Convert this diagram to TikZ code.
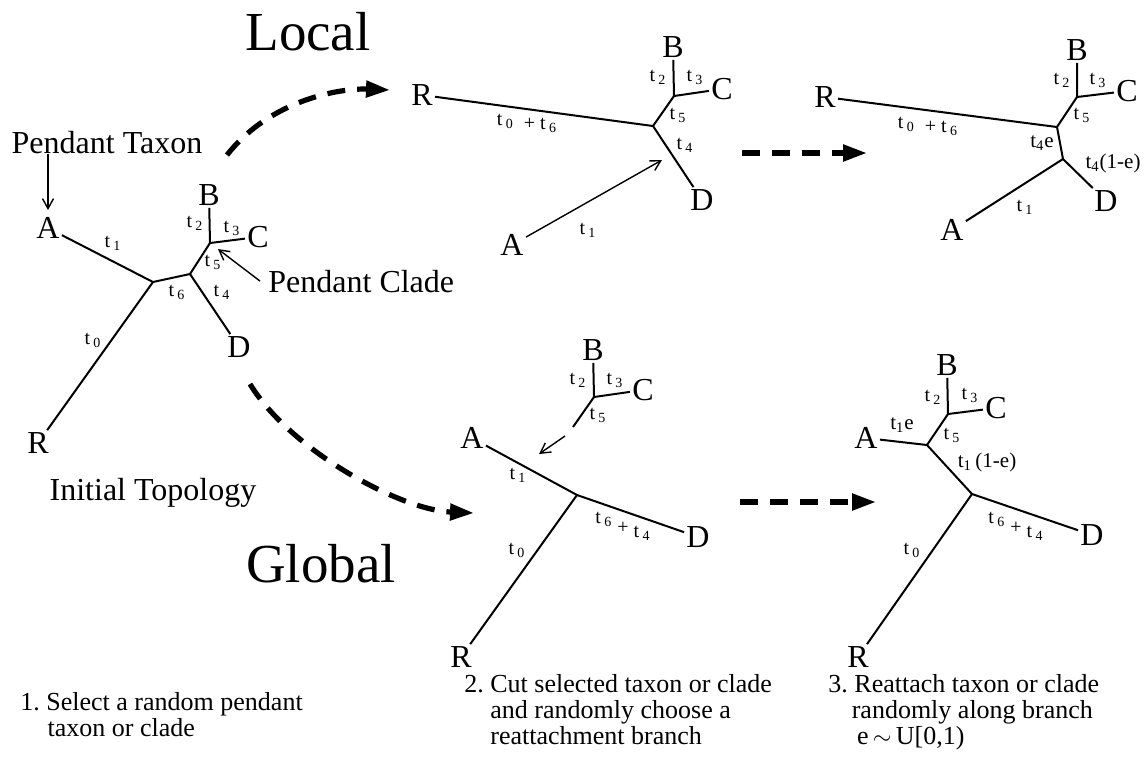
\documentclass[tikz,border=0pt]{standalone}
\usepackage{fontspec}
\setmainfont{Liberation Serif}
\usepackage{tikz}
\usetikzlibrary{arrows.meta}
\newcommand\tsub[1]{t\,\textsubscript{#1}}
\tikzset{
 leaf/.style={inner sep=1pt, font=\fontsize{16}{18}\selectfont},
 blen/.style={inner sep=0pt, font=\fontsize{10}{11}\selectfont},
 blen wide/.style={blen, font=\fontsize{10.5}{11}\selectfont},
 branch/.style={line width=1pt, line join=round},
 thinarrow/.style={line width=0.7pt, -{Straight Barb[length=5pt,width=5.5pt]}},
 movearrow/.style={line width=2.6pt, dash pattern=on 9pt off 6pt,
          -{Triangle[length=12pt,width=8pt]}},
 heading/.style={inner sep=0pt, font=\fontsize{27.5}{30}\selectfont},
 note/.style={inner sep=0pt, font=\fontsize{16}{18}\selectfont},
 caption/.style={inner sep=0pt, anchor=north west, align=left,
         font=\fontsize{13}{13}\selectfont},
}
\begin{document}
\frenchspacing
\begin{tikzpicture}[x=0.5pt, y=-0.5pt]
\useasboundingbox (0,0) rectangle (1146,768);
% the two kinds of move
\node[heading, anchor=base] (local) at (308,50) {Local};
\node[heading, anchor=base] (global) at (321,582) {Global};

% initial topology, with the pendant taxon and clade marked
\coordinate (i1) at (153,282);
\coordinate (i2) at (190,274);
\coordinate (i3) at (210,243);
\node[leaf] (iA) at (48,228) {A};
\node[leaf] (iB) at (209,195) {B};
\node[leaf] (iC) at (258,237) {C};
\node[leaf] (iD) at (239,347) {D};
\node[leaf] (iR) at (38,443) {R};
\draw[branch] (iA) -- (i1) -- (iR);
\draw[branch] (i1) -- (i2) -- (iD);
\draw[branch] (i2) -- (i3) -- (iB);
\draw[branch] (i3) -- (iC);
\foreach \lab/\pos [count=\i] in {%
 \tsub{1}/{113,243}, \tsub{0}/{93,340}, \tsub{6}/{177,292}, \tsub{4}/{222,292},
 \tsub{2}/{195,223}, \tsub{3}/{232,228}, \tsub{5}/{213,262}%
}{
 \node[blen] (it\i) at (\pos) {\lab};
}
\node[note, anchor=base] (ptaxon) at (107,153) {Pendant Taxon};
\node[note, anchor=base west, inner sep=4pt] (pclade) at (260,292) {Pendant Clade};
\draw[thinarrow, shorten >=2.5pt] (ptaxon.south -| iA) -- (iA.north);
\draw[thinarrow, shorten >=5pt] (pclade.west) -- (i3);
\node[note, anchor=base] (initial) at (153,500) {Initial Topology};

% local: pendant taxon cut and regrafted nearby
\coordinate (l1) at (653,126);
\coordinate (l3) at (674,96);
\coordinate (ltip) at (662,160);
\node[leaf] (lR) at (422,95) {R};
\node[leaf] (lB) at (673,47) {B};
\node[leaf] (lC) at (722,89) {C};
\node[leaf] (lD) at (702,200) {D};
\node[leaf] (lA) at (512,245) {A};
\draw[branch] (lR) -- (l1) -- (lD);
\draw[branch] (l1) -- (l3) -- (lB);
\draw[branch] (l3) -- (lC);
\draw[thinarrow] (lA) -- (ltip);
\node[blen] (lt06) at (527,123) {\tsub{0}\ \ \raisebox{-2pt}{+\ \tsub{6}}};
\foreach \lab/\pos [count=\i] in {%
 \tsub{2}/{658,77}, \tsub{3}/{695,77}, \tsub{5}/{678,115}, \tsub{4}/{685,145},
 \tsub{1}/{588,230}%
}{
 \node[blen] (lt\i) at (\pos) {\lab};
}

% local: result
\coordinate (r1) at (1057,127);
\coordinate (r3) at (1077,97);
\coordinate (r4) at (1063,159);
\node[leaf] (rR) at (825,97) {R};
\node[leaf] (rB) at (1077,50) {B};
\node[leaf] (rC) at (1127,91) {C};
\node[leaf] (rD) at (1106,201) {D};
\node[leaf] (rA) at (952,230) {A};
\draw[branch] (rR) -- (r1) -- (r4) -- (rD);
\draw[branch] (r1) -- (r3) -- (rB);
\draw[branch] (r3) -- (rC);
\draw[branch] (r4) -- (rA);
\node[blen] (rt06) at (928,126) {\tsub{0}\ \ \raisebox{-2pt}{+\ \tsub{6}}};
\foreach \lab/\pos [count=\i] in {%
 \tsub{2}/{1062,80}, \tsub{3}/{1098,80}, \tsub{5}/{1082,115}, \tsub{1}/{1025,207}%
}{
 \node[blen] (rt\i) at (\pos) {\lab};
}
\node[blen wide] (rt4e) at (1042,143) {t\textsubscript{4}e};
\node[blen wide] (rt4f) at (1113,163) {t\textsubscript{4}(1-e)};

% global: pendant clade cut off and sent to a distant branch
\coordinate (gq) at (594,397);
\coordinate (gcut) at (573,427);
\coordinate (garr) at (565,436);
\coordinate (gtip) at (539,454);
\coordinate (g1) at (577,495);
\node[leaf] (gB) at (593,350) {B};
\node[leaf] (gC) at (643,390) {C};
\node[leaf] (gA) at (472,438) {A};
\node[leaf] (gD) at (698,537) {D};
\node[leaf] (gR) at (461,657) {R};
\draw[branch] (gq) -- (gB);
\draw[branch] (gq) -- (gC);
\draw[branch] (gq) -- (gcut);
\draw[thinarrow] (garr) -- (gtip);
\draw[branch] (gA) -- (g1) -- (gD);
\draw[branch] (g1) -- (gR);
\foreach \lab/\pos [count=\i] in {%
 \tsub{2}/{578,380}, \tsub{3}/{615,380}, \tsub{5}/{598,415}, \tsub{1}/{518,475},
 \tsub{0}/{517,550}%
}{
 \node[blen] (gt\i) at (\pos) {\lab};
}
\node[blen] (gt64) at (623,526) {\tsub{6}\ \raisebox{-5pt}{+\ \raisebox{-2pt}{\tsub{4}}}};

% global: result
\coordinate (h3) at (948,414);
\coordinate (h2) at (927,445);
\coordinate (h1) at (972,494);
\node[leaf] (hB) at (947,365) {B};
\node[leaf] (hC) at (996,408) {C};
\node[leaf] (hA) at (866,438) {A};
\node[leaf] (hD) at (1092,535) {D};
\node[leaf] (hR) at (858,657) {R};
\draw[branch] (h3) -- (hB);
\draw[branch] (h3) -- (hC);
\draw[branch] (hA) -- (h2) -- (h1) -- (hD);
\draw[branch] (h3) -- (h2);
\draw[branch] (h1) -- (hR);
\foreach \lab/\pos [count=\i] in {%
 \tsub{2}/{933,397}, \tsub{3}/{970,395}, \tsub{5}/{952,435}, \tsub{0}/{912,550}%
}{
 \node[blen] (ht\i) at (\pos) {\lab};
}
\node[blen wide] (ht1e) at (902,425) {t\textsubscript{1}e};
\node[blen wide] (ht1f) at (987,462) {t\textsubscript{1}\,(1-e)};
\node[blen] (ht64) at (1016,526) {\tsub{6}\ \raisebox{-5pt}{+\ \raisebox{-2pt}{\tsub{4}}}};

% the moves
\coordinate (lstart) at (227,155);
\coordinate (lend) at (390,90);
\coordinate (gstart) at (250,384);
\coordinate (gend) at (474,513);
\coordinate (lmv1) at (742,153);
\coordinate (lmv2) at (867,153);
\coordinate (gmv1) at (740,502);
\coordinate (gmv2) at (876,502);
\draw[movearrow] (lstart) .. controls (270,100) and (340,88) .. (lend);
\draw[movearrow] (gstart) .. controls (290,450) and (400,510) .. (gend);
\draw[movearrow] (lmv1) -- (lmv2);
\draw[movearrow] (gmv1) -- (gmv2);

% steps
\node[caption] (cap1) at (20,692) {1. Select a random pendant\\\hspace*{1.05em}taxon or clade};
\node[caption] (cap2) at (464,674) {2. Cut selected taxon or clade\\\hspace*{1em}and randomly choose a\\\hspace*{1em}reattachment branch};
\node[caption] (cap3) at (828,674) {3. Reattach taxon or clade\\\hspace*{0.9em}randomly along branch\\\hspace*{1.1em}e\,$\sim$\,U[0,1)};
\end{tikzpicture}
\end{document}
